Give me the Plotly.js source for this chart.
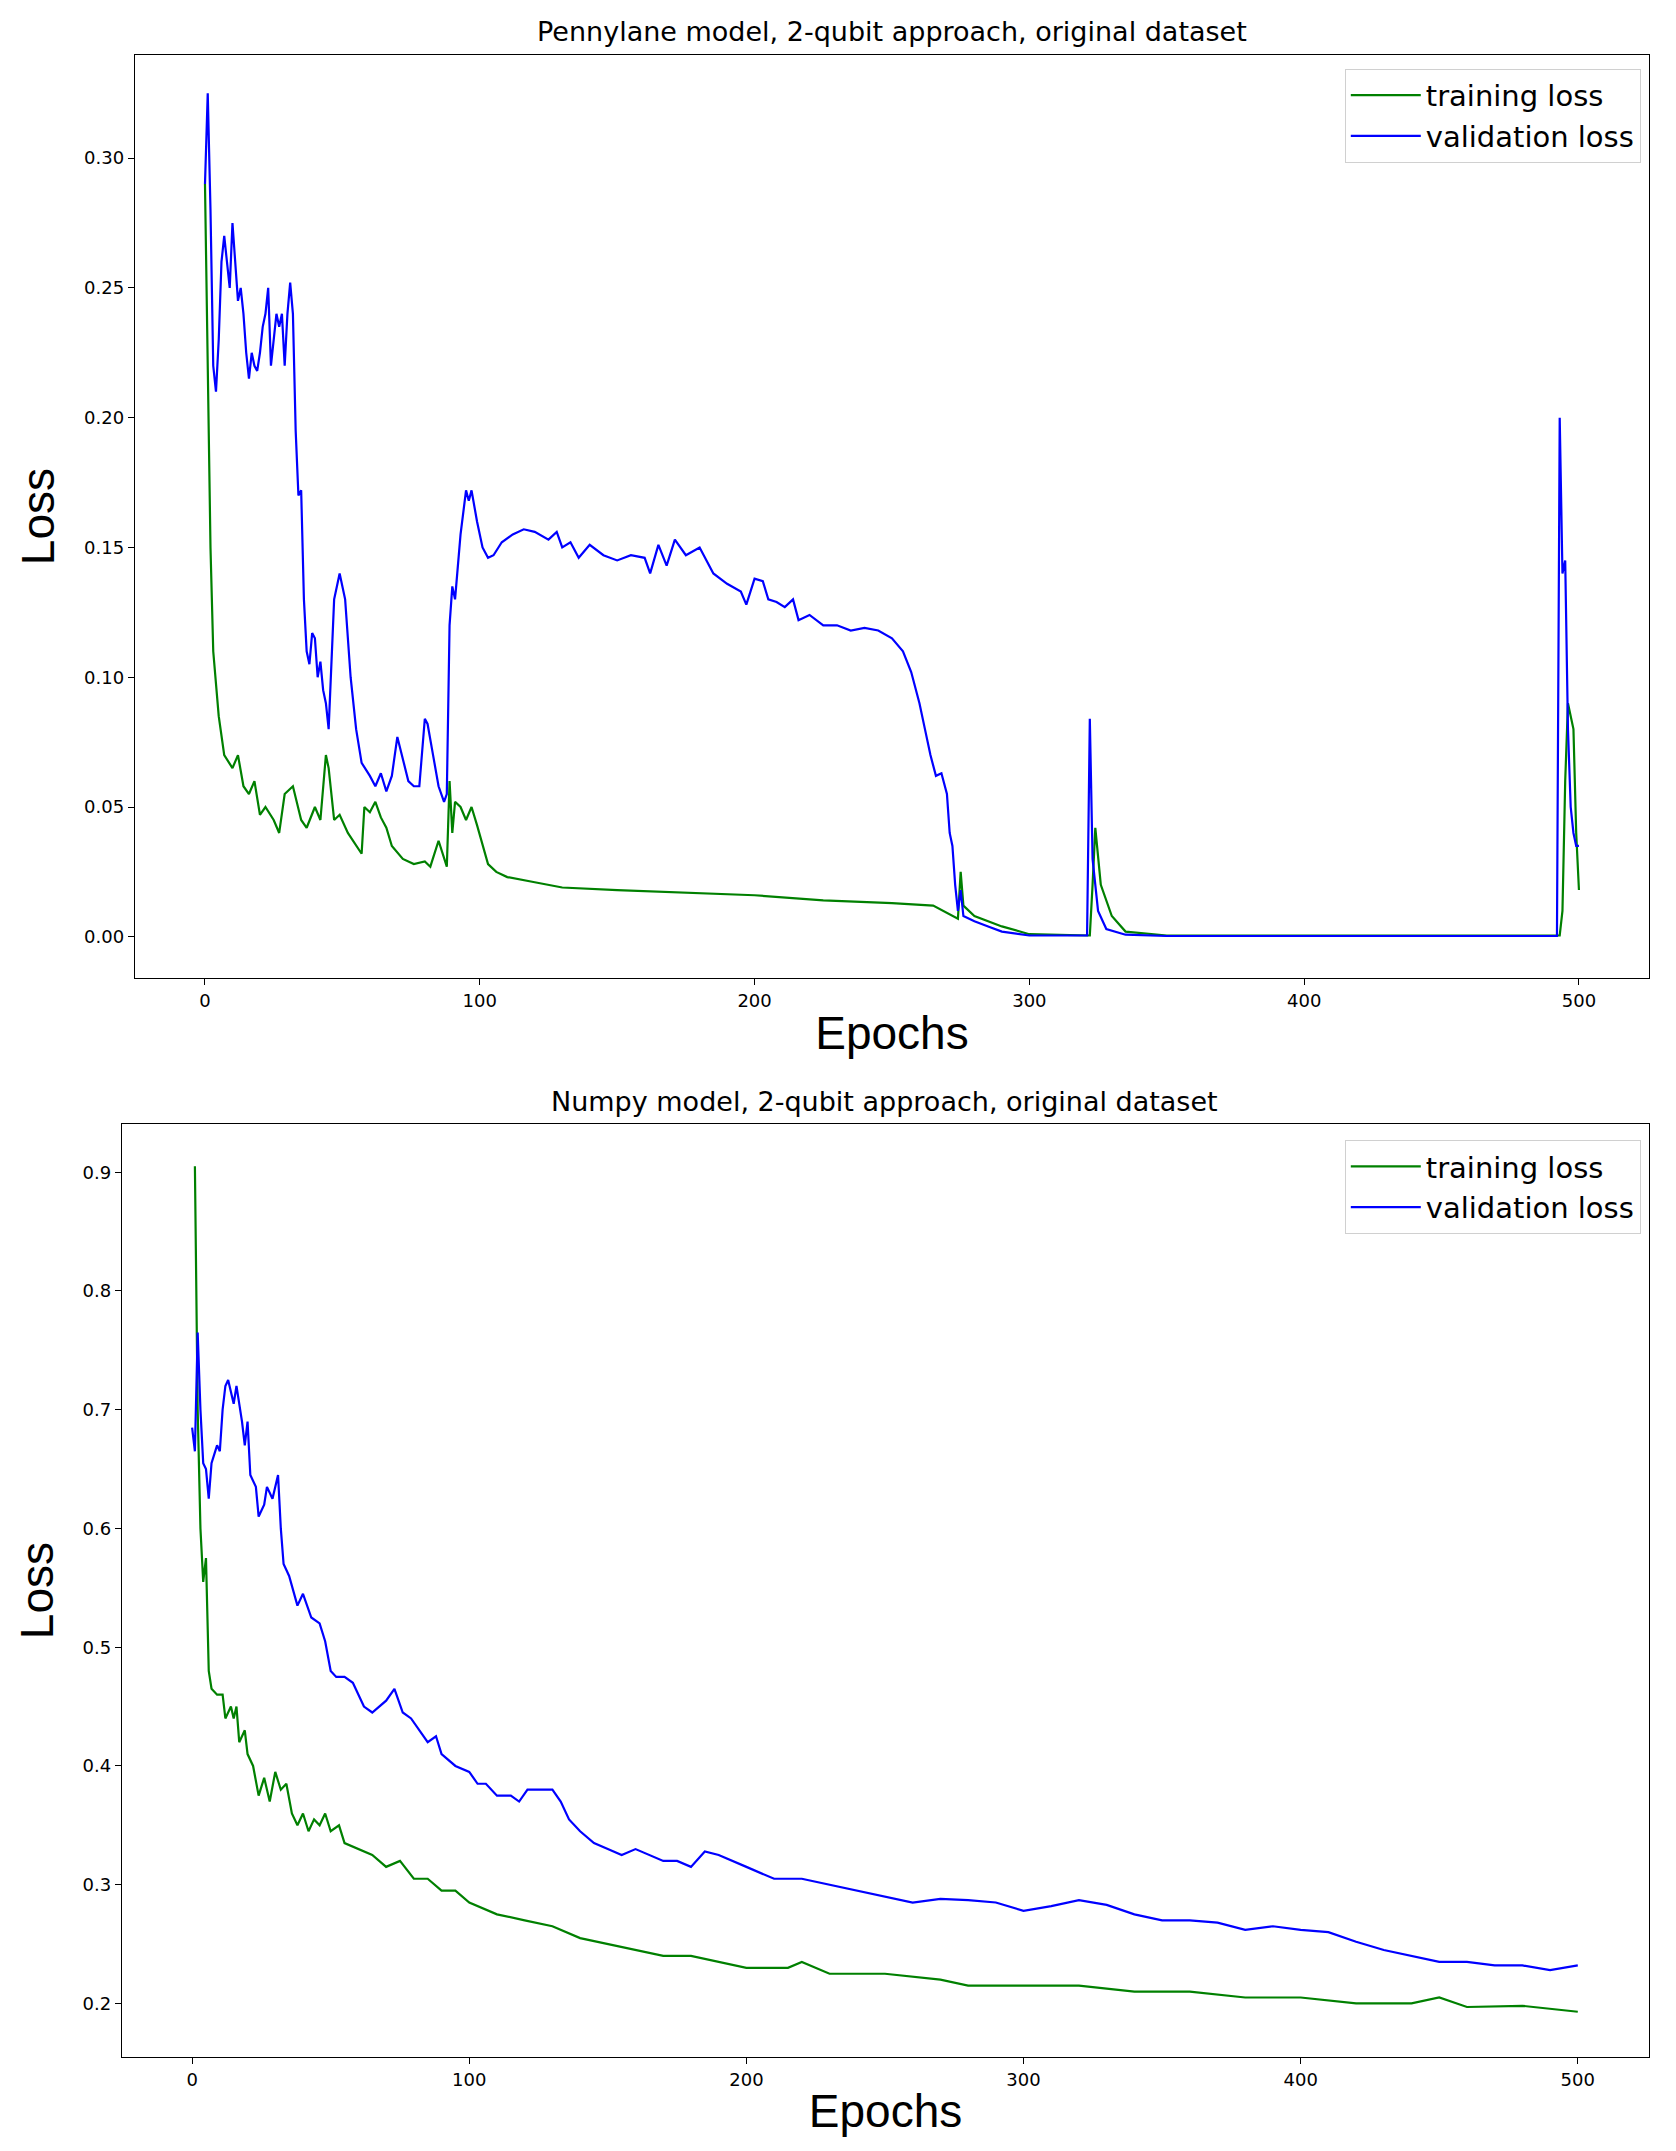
<!DOCTYPE html>
<html><head><meta charset="utf-8">
<script src="https://cdn.plot.ly/plotly-3.0.1.min.js"></script>
<style>body{margin:0;background:#fff}#plot{width:1676px;height:2151px}</style>
</head><body><div id="plot"></div>
<script>
// top: Pennylane model
var penTrainX = [0,1,2,3,5,7,10,12,14,16,18,20,22,25,27,29,32,35,37,40,42,44,45,47,49,52,55,57,58,60,62,64,66,68,72,76,80,82,85,88,89,90,91,93,95,97,99,101,103,106,110,120,130,150,175,200,225,250,265,272,274,275,276,280,290,300,320,322,323,324,326,330,335,350,493,494,495,496,498,499,500];
var penTrainY = [0.29,0.22,0.15,0.11,0.085,0.07,0.065,0.07,0.058,0.055,0.06,0.047,0.05,0.045,0.04,0.055,0.058,0.045,0.042,0.05,0.045,0.07,0.065,0.045,0.047,0.04,0.035,0.032,0.05,0.048,0.052,0.046,0.042,0.035,0.030,0.028,0.029,0.027,0.037,0.027,0.06,0.04,0.052,0.05,0.045,0.05,0.043,0.035,0.028,0.025,0.023,0.021,0.019,0.018,0.017,0.016,0.014,0.013,0.012,0.008,0.007,0.025,0.012,0.008,0.004,0.001,0.0005,0.0005,0.02,0.042,0.02,0.008,0.002,0.0005,0.0005,0.01,0.06,0.09,0.08,0.04,0.018];
var penValX = [0,1,2,3,4,5,6,7,8,9,10,11,12,13,14,15,16,17,18,19,20,21,22,23,24,25,26,27,28,29,30,31,32,33,34,35,36,37,38,39,40,41,42,43,44,45,46,47,49,51,53,55,57,60,62,64,66,68,70,72,74,76,78,80,81,83,85,87,88,89,90,91,93,95,96,97,99,101,103,105,108,112,116,120,125,128,130,133,136,140,145,150,155,160,162,165,168,171,175,180,185,190,195,197,200,203,205,208,211,214,216,220,225,230,235,240,245,250,254,257,260,262,264,266,268,270,271,272,273,274,275,276,280,285,290,300,321,322,323,325,328,335,350,492,493,494,495,496,497,498,499,500];
var penValY = [0.29,0.325,0.28,0.22,0.21,0.23,0.26,0.27,0.26,0.25,0.275,0.26,0.245,0.25,0.24,0.225,0.215,0.225,0.22,0.218,0.225,0.235,0.24,0.25,0.22,0.23,0.24,0.235,0.24,0.22,0.24,0.252,0.24,0.195,0.17,0.172,0.13,0.11,0.105,0.117,0.115,0.1,0.106,0.095,0.09,0.08,0.105,0.13,0.14,0.13,0.1,0.08,0.067,0.062,0.058,0.063,0.056,0.062,0.077,0.068,0.06,0.058,0.058,0.084,0.082,0.07,0.058,0.052,0.055,0.12,0.135,0.13,0.155,0.172,0.168,0.172,0.16,0.15,0.146,0.147,0.152,0.155,0.157,0.156,0.153,0.156,0.15,0.152,0.146,0.151,0.147,0.145,0.147,0.146,0.14,0.151,0.143,0.153,0.147,0.15,0.14,0.136,0.133,0.128,0.138,0.137,0.13,0.129,0.127,0.13,0.122,0.124,0.12,0.12,0.118,0.119,0.118,0.115,0.11,0.102,0.09,0.08,0.07,0.062,0.063,0.055,0.04,0.035,0.02,0.01,0.018,0.008,0.006,0.004,0.002,0.0005,0.0005,0.084,0.03,0.01,0.003,0.0008,0.0003,0.0003,0.2,0.14,0.145,0.08,0.05,0.04,0.035,0.035];
// bottom: Numpy model
var npTrainX = [1,2,3,4,5,6,7,9,11,12,14,15,16,17,19,20,22,24,26,28,30,32,34,36,38,40,42,44,46,48,50,53,55,60,65,70,75,80,85,90,95,100,105,110,120,130,140,150,160,170,180,190,200,215,220,230,250,270,280,300,320,340,360,380,400,420,440,450,460,480,500];
var npTrainY = [0.905,0.7,0.6,0.555,0.575,0.48,0.465,0.46,0.46,0.44,0.45,0.44,0.45,0.42,0.43,0.41,0.4,0.375,0.39,0.37,0.395,0.38,0.385,0.36,0.35,0.36,0.345,0.355,0.35,0.36,0.345,0.35,0.335,0.33,0.325,0.315,0.32,0.305,0.305,0.295,0.295,0.285,0.28,0.275,0.27,0.265,0.255,0.25,0.245,0.24,0.24,0.235,0.23,0.23,0.235,0.225,0.225,0.22,0.215,0.215,0.215,0.21,0.21,0.205,0.205,0.2,0.2,0.205,0.197,0.198,0.193];
var npValX = [0,1,2,3,4,5,6,7,9,10,11,12,13,15,16,18,19,20,21,23,24,26,27,29,31,32,33,35,38,40,43,46,48,50,52,55,58,62,65,70,73,76,79,82,85,88,90,95,100,103,106,110,115,118,121,125,130,133,136,140,145,150,155,160,165,170,175,180,185,190,200,210,220,230,240,250,260,270,280,290,300,310,320,330,340,350,360,370,380,390,400,410,420,430,440,450,460,470,480,490,500];
var npValY = [0.685,0.665,0.765,0.7,0.655,0.65,0.625,0.655,0.67,0.665,0.7,0.72,0.725,0.705,0.72,0.69,0.67,0.69,0.645,0.635,0.61,0.62,0.635,0.625,0.645,0.6,0.57,0.56,0.535,0.545,0.525,0.52,0.505,0.48,0.475,0.475,0.47,0.45,0.445,0.455,0.465,0.445,0.44,0.43,0.42,0.425,0.41,0.4,0.395,0.385,0.385,0.375,0.375,0.37,0.38,0.38,0.38,0.37,0.355,0.345,0.335,0.33,0.325,0.33,0.325,0.32,0.32,0.315,0.328,0.325,0.315,0.305,0.305,0.3,0.295,0.29,0.285,0.288,0.287,0.285,0.278,0.282,0.287,0.283,0.275,0.27,0.27,0.268,0.262,0.265,0.262,0.26,0.252,0.245,0.24,0.235,0.235,0.232,0.232,0.228,0.232];

var green = '#008000', blue = '#0000ff';
var data = [
  {x: penTrainX, y: penTrainY, type: 'scatter', mode: 'lines', name: 'training loss', line: {color: green, width: 2.2}, legend: 'legend'},
  {x: penValX, y: penValY, type: 'scatter', mode: 'lines', name: 'validation loss', line: {color: blue, width: 2.2}, legend: 'legend'},
  {x: npTrainX, y: npTrainY, type: 'scatter', mode: 'lines', name: 'training loss', line: {color: green, width: 2.2}, xaxis: 'x2', yaxis: 'y2', legend: 'legend2'},
  {x: npValX, y: npValY, type: 'scatter', mode: 'lines', name: 'validation loss', line: {color: blue, width: 2.2}, xaxis: 'x2', yaxis: 'y2', legend: 'legend2'}
];

var tickFont = {family: 'DejaVu Sans', size: 18, color: '#000'};
var axTitleFont = {family: 'Liberation Sans', size: 46, color: '#000'};
function ax(extra) {
  return Object.assign({showgrid: false, zeroline: false, showline: true, mirror: true, linecolor: '#000', linewidth: 1.3,
    ticks: 'outside', ticklen: 6, tickcolor: '#000', tickfont: tickFont}, extra);
}
var legendStyle = {font: {family: 'DejaVu Sans', size: 29, color: '#000'}, bgcolor: 'rgba(255,255,255,0.8)',
  bordercolor: '#d0d0d0', borderwidth: 1, xanchor: 'right', yanchor: 'top', traceorder: 'normal', itemwidth: 70};

var layout = {
  width: 1676, height: 2151, margin: {l: 0, r: 0, t: 0, b: 0},
  paper_bgcolor: '#fff', plot_bgcolor: '#fff', font: {family: 'DejaVu Sans'},
  xaxis: ax({domain: [0.0805, 0.9839], range: [-25.5, 525.5], tickvals: [0,100,200,300,400,500], anchor: 'y',
    title: {text: 'Epochs', font: axTitleFont, standoff: 6}}),
  yaxis: ax({domain: [0.5453, 0.9744], range: [-0.0159, 0.3397], tickvals: [0,0.05,0.1,0.15,0.2,0.25,0.3], tickformat: '.2f', anchor: 'x',
    title: {text: 'Loss', font: axTitleFont, standoff: 14}}),
  xaxis2: ax({domain: [0.0728, 0.9839], range: [-25.3, 525.7], tickvals: [0,100,200,300,400,500], anchor: 'y2',
    title: {text: 'Epochs', font: axTitleFont, standoff: 6}}),
  yaxis2: ax({domain: [0.0437, 0.4774], range: [0.1549, 0.9405], tickvals: [0.2,0.3,0.4,0.5,0.6,0.7,0.8,0.9], tickformat: '.1f', anchor: 'x2',
    title: {text: 'Loss', font: axTitleFont, standoff: 14}}),
  legend: Object.assign({x: 0.979, y: 0.968}, legendStyle),
  legend2: Object.assign({x: 0.979, y: 0.470}, legendStyle),
  annotations: [
    {text: 'Pennylane model, 2-qubit approach, original dataset', xref: 'paper', yref: 'paper', x: 0.532, y: 0.977,
      xanchor: 'center', yanchor: 'bottom', showarrow: false, font: {family: 'DejaVu Sans', size: 27, color: '#000'}},
    {text: 'Numpy model, 2-qubit approach, original dataset', xref: 'paper', yref: 'paper', x: 0.528, y: 0.480,
      xanchor: 'center', yanchor: 'bottom', showarrow: false, font: {family: 'DejaVu Sans', size: 27, color: '#000'}}
  ]
};

Plotly.newPlot('plot', data, layout, {displayModeBar: false});
</script>
</body></html>
